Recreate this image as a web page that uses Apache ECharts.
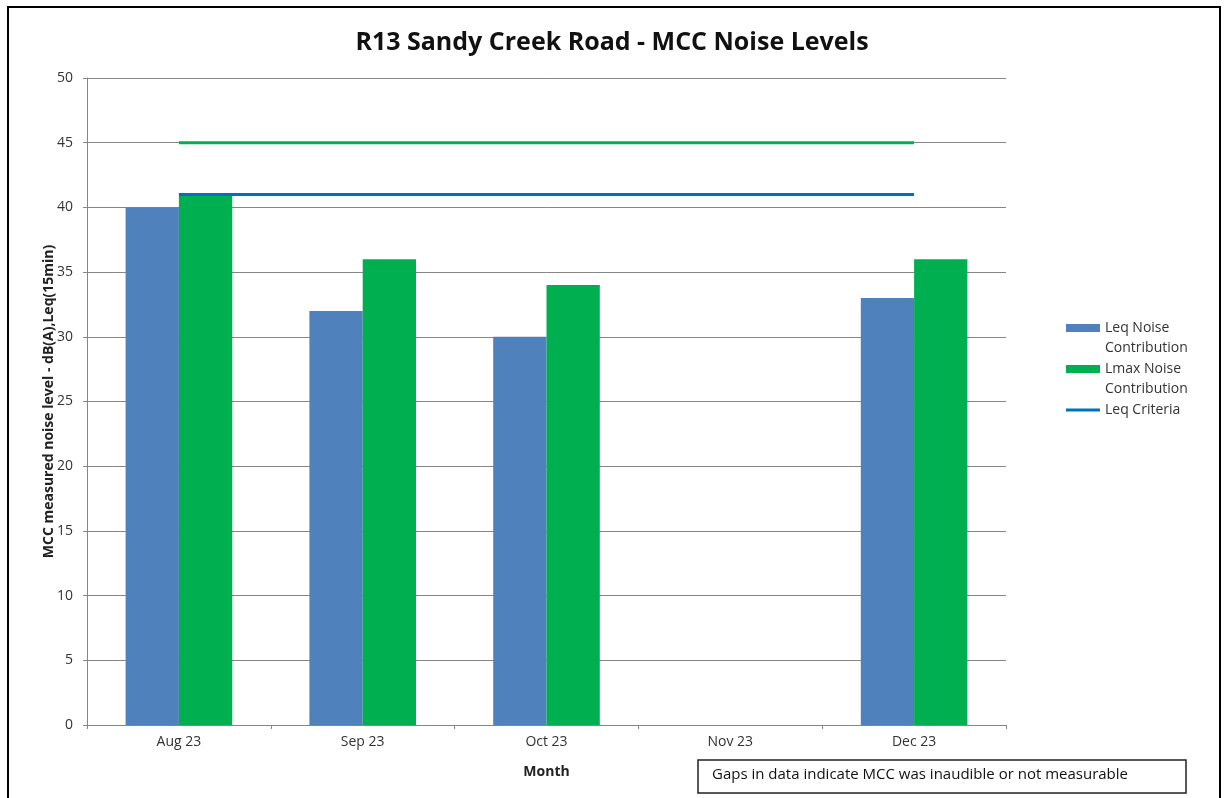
<!DOCTYPE html>
<html>
<head>
<meta charset="utf-8">
<style>
  html, body { margin: 0; padding: 0; background: #fff; }
  #main { width: 1224px; height: 798px; }
</style>
<script src="https://cdn.jsdelivr.net/npm/echarts@6/dist/echarts.min.js"></script>
</head>
<body>
<div id="main"></div>
<script>
// chart data
var months = ['Aug 23', 'Sep 23', 'Oct 23', 'Nov 23', 'Dec 23'];
var leqNoise = [40, 32, 30, '-', 33];
var lmaxNoise = [41, 36, 34, '-', 36];
var leqCriteria = [41, 41, 41, 41, 41];
var lmaxCriteria = [45, 45, 45, 45, 45];
var yTicks = { min: 0, max: 50, interval: 5 };

var font = '"Open Sans", "Noto Sans", sans-serif';

var myChart = echarts.init(document.getElementById('main'));

myChart.setOption({
    backgroundColor: '#fff',
    textStyle: { fontFamily: font },
    title: {
        text: 'R13 Sandy Creek Road - MCC Noise Levels',
        left: 'center',
        top: 25,
        textStyle: { fontSize: 25, fontWeight: 'bold', color: '#111', fontFamily: font }
    },
    legend: {
        orient: 'vertical',
        left: 1066,
        top: 298,
        padding: 0,
        itemWidth: 34,
        itemHeight: 8,
        itemGap: -19,
        textStyle: { fontSize: 14, color: '#333', lineHeight: 20, fontFamily: font },
        // empty first line keeps the icon level with the first text line
        formatter: function (name) {
            if (name.indexOf(' Noise ') > -1) {
                return '\n' + name.replace(' Noise ', ' Noise\n');
            }
            return '\n' + name + '\n';
        },
        data: [
            { name: 'Leq Noise Contribution', icon: 'rect' },
            { name: 'Lmax Noise Contribution', icon: 'rect' },
            { name: 'Leq Criteria', icon: 'path://M0,0 L0.01,0 Z M0,2.5 L34,2.5 L34,5.5 L0,5.5 Z M0,8 L0.01,8 Z' }
        ]
    },
    grid: {
        left: 87,
        right: 218,
        top: 78,
        bottom: 73
    },
    xAxis: {
        type: 'category',
        data: months,
        name: 'Month',
        nameLocation: 'middle',
        nameGap: 40,
        nameTextStyle: { fontSize: 14, fontWeight: 'bold', color: '#222' },
        axisLine: { lineStyle: { color: '#868686' } },
        axisTick: { show: true, length: 4, lineStyle: { color: '#868686' } },
        axisLabel: { fontSize: 14, color: '#333', margin: 10 }
    },
    yAxis: {
        type: 'value',
        min: yTicks.min,
        max: yTicks.max,
        interval: yTicks.interval,
        name: 'MCC measured noise level - dB(A),Leq(15min)',
        nameLocation: 'middle',
        nameGap: 31,
        nameMoveOverlap: false,
        nameTextStyle: { fontSize: 14, fontWeight: 'bold', color: '#222' },
        axisLine: { show: true, lineStyle: { color: '#868686' } },
        axisTick: { show: true, length: 4, lineStyle: { color: '#868686' } },
        axisLabel: { fontSize: 14, color: '#333', margin: 14 },
        splitLine: { lineStyle: { color: '#868686', width: 1 } }
    },
    series: [
        {
            name: 'Leq Noise Contribution',
            type: 'bar',
            data: leqNoise,
            barWidth: '29%',
            barGap: '0%',
            itemStyle: { color: '#4f81bd' }
        },
        {
            name: 'Lmax Noise Contribution',
            type: 'bar',
            data: lmaxNoise,
            barWidth: '29%',
            barGap: '0%',
            itemStyle: { color: '#00b050' }
        },
        {
            name: 'Leq Criteria',
            type: 'line',
            data: leqCriteria,
            symbol: 'none',
            z: 5,
            lineStyle: { color: '#0070c0', width: 3 },
            itemStyle: { color: '#0070c0' }
        },
        {
            name: 'Lmax Criteria',
            type: 'line',
            data: lmaxCriteria,
            symbol: 'none',
            z: 5,
            lineStyle: { color: '#00b050', width: 3 },
            itemStyle: { color: '#00b050' }
        }
    ],
    graphic: [
        {
            type: 'rect',
            shape: { x: 8, y: 7, width: 1212, height: 800 },
            style: { fill: 'none', stroke: '#000', lineWidth: 2 },
            silent: true
        },
        {
            type: 'rect',
            shape: { x: 698, y: 760, width: 488, height: 33 },
            style: { fill: '#fff', stroke: '#222', lineWidth: 1.5 }
        },
        {
            type: 'text',
            left: 712,
            top: 767,
            style: {
                text: 'Gaps in data indicate MCC was inaudible or not measurable',
                fontSize: 15,
                fill: '#111',
                fontFamily: font
            }
        }
    ]
});
</script>
</body>
</html>
